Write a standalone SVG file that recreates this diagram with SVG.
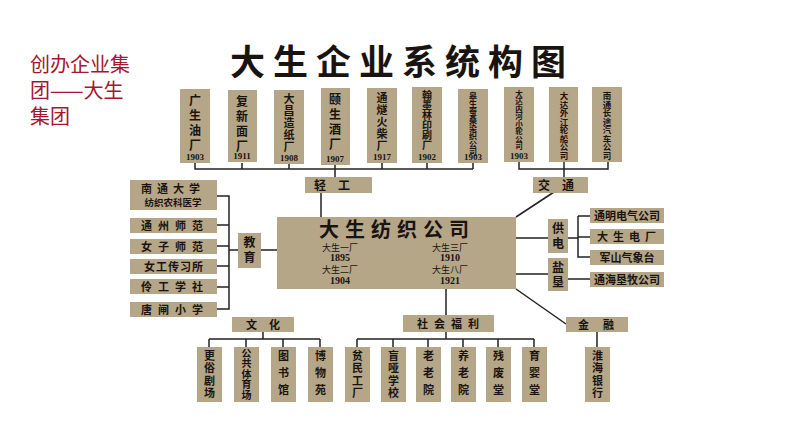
<svg xmlns="http://www.w3.org/2000/svg" width="794" height="447" viewBox="0 0 794 447">
<style>
.b{fill:#b5a687}
.t{font-family:"Noto Sans CJK SC",sans-serif;font-weight:bold;fill:#1a1410}
.v{writing-mode:vertical-rl}
.y{font-family:"Liberation Serif",serif;font-weight:bold;font-size:9px;fill:#1a1410;text-anchor:middle}
.h{text-anchor:middle}
.s{font-family:"Noto Sans CJK SC",sans-serif;font-size:9px;fill:#1a1410;text-anchor:middle}
.n{font-family:"Liberation Serif",serif;font-weight:bold;font-size:10px;fill:#1a1410;text-anchor:middle}
#conn path{fill:none;stroke:#222;stroke-width:1.5}
</style>
<rect width="794" height="447" fill="#fff"/>
<text x="30" y="72" font-family="Noto Sans CJK SC,sans-serif" font-size="20" fill="#a3182e">创办企业集</text>
<text x="30" y="98" font-family="Noto Sans CJK SC,sans-serif" font-size="20" fill="#a3182e">团——大生</text>
<text x="30" y="124" font-family="Noto Sans CJK SC,sans-serif" font-size="20" fill="#a3182e">集团</text>
<text x="402" y="75" class="t h" font-size="35" letter-spacing="8">大生企业系统构图</text>
<g id="conn">
<path d="M195 163V169H473M242 163V169M289 164V169M335 165V177M382 163V169M427 163V169M473 163V169"/>
<path d="M519 162V169H608V162M564 162V177"/>
<path d="M321 193V217"/>
<path d="M217 196H229V309H217M217 225H229M217 246H229M217 266H229M217 287H229M229 250H238M261 250H277"/>
<path d="M554 192L516 217M516 238H548M516 274H548M568 238H578M578 216V257H590M578 216H590M578 237H590M568 279H590"/>
<path d="M516 289L566 324M597 332V347"/>
<path d="M446 289V315M446 332V339M357 339H534M357 339V347M393 339V347M428 339V347M463 339V347M498 339V347M534 339V347"/>
<path d="M263 332V339M209 339H320M209 339V347M246 339V347M283 339V347M320 339V347"/>
</g>
<g id="top">
<rect class="b" x="180" y="89" width="30" height="74"/><text class="t v" x="195" y="94" font-size="12" letter-spacing="3">广生油厂</text><text class="y" x="195" y="160">1903</text>
<rect class="b" x="228" y="90" width="29" height="72"/><text class="t v" x="242" y="95" font-size="12" letter-spacing="3">复新面厂</text><text class="y" x="242" y="159">1911</text>
<rect class="b" x="274" y="90" width="30" height="74"/><text class="t v" x="289" y="93" font-size="11" letter-spacing="1">大昌造纸厂</text><text class="y" x="289" y="161">1908</text>
<rect class="b" x="321" y="88" width="29" height="77"/><text class="t v" x="335" y="93" font-size="12" letter-spacing="3">颐生酒厂</text><text class="y" x="335" y="162">1907</text>
<rect class="b" x="367" y="88" width="30" height="75"/><text class="t v" x="382" y="92" font-size="11" letter-spacing="1">通燧火柴厂</text><text class="y" x="382" y="160">1917</text>
<rect class="b" x="412" y="87" width="30" height="76"/><text class="t v" x="427" y="90" font-size="10" letter-spacing="0">翰墨林印刷厂</text><text class="y" x="427" y="160">1902</text>
<rect class="b" x="458" y="89" width="30" height="74"/><text class="t v" x="473" y="92" font-size="8" letter-spacing="0">皋生蚕桑染织公司</text><text class="y" x="473" y="160">1903</text>
<rect class="b" x="504" y="87" width="30" height="75"/><text class="t v" x="519" y="90" font-size="7.5" letter-spacing="0">大达内河小轮公司</text><text class="y" x="519" y="159">1903</text>
<rect class="b" x="549" y="87" width="29" height="75"/><text class="t v" x="564" y="92" font-size="8.5" letter-spacing="0">大达外江轮船公司</text>
<rect class="b" x="592" y="87" width="30" height="75"/><text class="t v" x="607" y="92" font-size="8.5" letter-spacing="0">南通长途汽车公司</text>
</g>
<g id="qinggong"><rect class="b" x="305" y="177" width="67" height="16"/><text class="t h" x="338" y="190" font-size="12" letter-spacing="12">轻工</text></g>
<g id="jiaotong"><rect class="b" x="533" y="177" width="55" height="16"/><text class="t h" x="562" y="190" font-size="12" letter-spacing="12">交通</text></g>
<g id="main"><rect class="b" x="277" y="217" width="239" height="72"/>
<text class="t h" x="397" y="237" font-size="20" letter-spacing="6">大生纺织公司</text>
<text class="s" x="340" y="251">大生一厂</text><text class="n" x="340" y="261">1895</text><text class="s" x="340" y="273">大生二厂</text><text class="n" x="340" y="284">1904</text>
<text class="s" x="450" y="251">大生三厂</text><text class="n" x="450" y="261">1910</text><text class="s" x="450" y="273">大生八厂</text><text class="n" x="450" y="284">1921</text></g>
<g id="left">
<rect class="b" x="130" y="180" width="87" height="30"/><text class="t h" x="173" y="193" font-size="11" letter-spacing="5">南通大学</text><text class="t h" x="173" y="206" font-size="9.5">纺织农科医学</text>
<rect class="b" x="130" y="218" width="87" height="15"/><text class="t h" x="175" y="230" font-size="11" letter-spacing="6">通州师范</text>
<rect class="b" x="130" y="239" width="87" height="15"/><text class="t h" x="175" y="251" font-size="11" letter-spacing="6">女子师范</text>
<rect class="b" x="130" y="259" width="87" height="15"/><text class="t h" x="174" y="271" font-size="11" letter-spacing="1">女工传习所</text>
<rect class="b" x="130" y="279" width="87" height="15"/><text class="t h" x="175" y="291" font-size="11" letter-spacing="6">伶工学社</text>
<rect class="b" x="130" y="302" width="87" height="15"/><text class="t h" x="175" y="314" font-size="11" letter-spacing="6">唐闸小学</text>
<rect class="b" x="238" y="233" width="23" height="35"/><text class="t v" x="249.5" y="236" font-size="12" letter-spacing="3">教育</text>
</g>
<g id="right">
<rect class="b" x="548" y="219" width="20" height="34"/><text class="t v" x="558" y="222" font-size="12" letter-spacing="3">供电</text>
<rect class="b" x="548" y="258" width="20" height="33"/><text class="t v" x="558" y="261" font-size="12" letter-spacing="3">盐垦</text>
<rect class="b" x="590" y="208" width="74" height="15"/><text class="t h" x="627" y="220" font-size="11">通明电气公司</text>
<rect class="b" x="590" y="229" width="74" height="15"/><text class="t h" x="629" y="241" font-size="11" letter-spacing="5">大生电厂</text>
<rect class="b" x="590" y="250" width="74" height="15"/><text class="t h" x="627" y="262" font-size="11">军山气象台</text>
<rect class="b" x="590" y="272" width="74" height="15"/><text class="t h" x="627" y="284" font-size="11">通海垦牧公司</text>
</g>
<g id="culture">
<rect class="b" x="232" y="317" width="62" height="15"/><text class="t h" x="269" y="329" font-size="11" letter-spacing="12">文化</text>
<rect class="b" x="197" y="347" width="25" height="55"/><text class="t v" x="209.5" y="350" font-size="11" letter-spacing="1.5">更俗剧场</text>
<rect class="b" x="234" y="347" width="25" height="55"/><text class="t v" x="246.5" y="348" font-size="10" letter-spacing="0.5">公共体育场</text>
<rect class="b" x="271" y="347" width="25" height="55"/><text class="t v" x="283.5" y="350" font-size="11" letter-spacing="6">图书馆</text>
<rect class="b" x="308" y="347" width="25" height="55"/><text class="t v" x="320.5" y="350" font-size="11" letter-spacing="6">博物苑</text>
</g>
<g id="welfare">
<rect class="b" x="403" y="315" width="91" height="17"/><text class="t h" x="451" y="328" font-size="11" letter-spacing="6">社会福利</text>
<rect class="b" x="345" y="347" width="25" height="55"/><text class="t v" x="357.5" y="350" font-size="11" letter-spacing="1.5">贫民工厂</text>
<rect class="b" x="381" y="347" width="25" height="55"/><text class="t v" x="393.5" y="350" font-size="11" letter-spacing="1.5">盲哑学校</text>
<rect class="b" x="416" y="347" width="25" height="55"/><text class="t v" x="428.5" y="350" font-size="11" letter-spacing="6">老老院</text>
<rect class="b" x="451" y="347" width="25" height="55"/><text class="t v" x="463.5" y="350" font-size="11" letter-spacing="6">养老院</text>
<rect class="b" x="486" y="347" width="25" height="55"/><text class="t v" x="498.5" y="350" font-size="11" letter-spacing="6">残废堂</text>
<rect class="b" x="522" y="347" width="25" height="55"/><text class="t v" x="534.5" y="350" font-size="11" letter-spacing="6">育婴堂</text>
</g>
<g id="finance">
<rect class="b" x="566" y="317" width="62" height="15"/><text class="t h" x="603" y="329" font-size="11" letter-spacing="14">金融</text>
<rect class="b" x="585" y="347" width="25" height="55"/><text class="t v" x="597.5" y="350" font-size="11" letter-spacing="1.5">淮海银行</text>
</g>
</svg>
